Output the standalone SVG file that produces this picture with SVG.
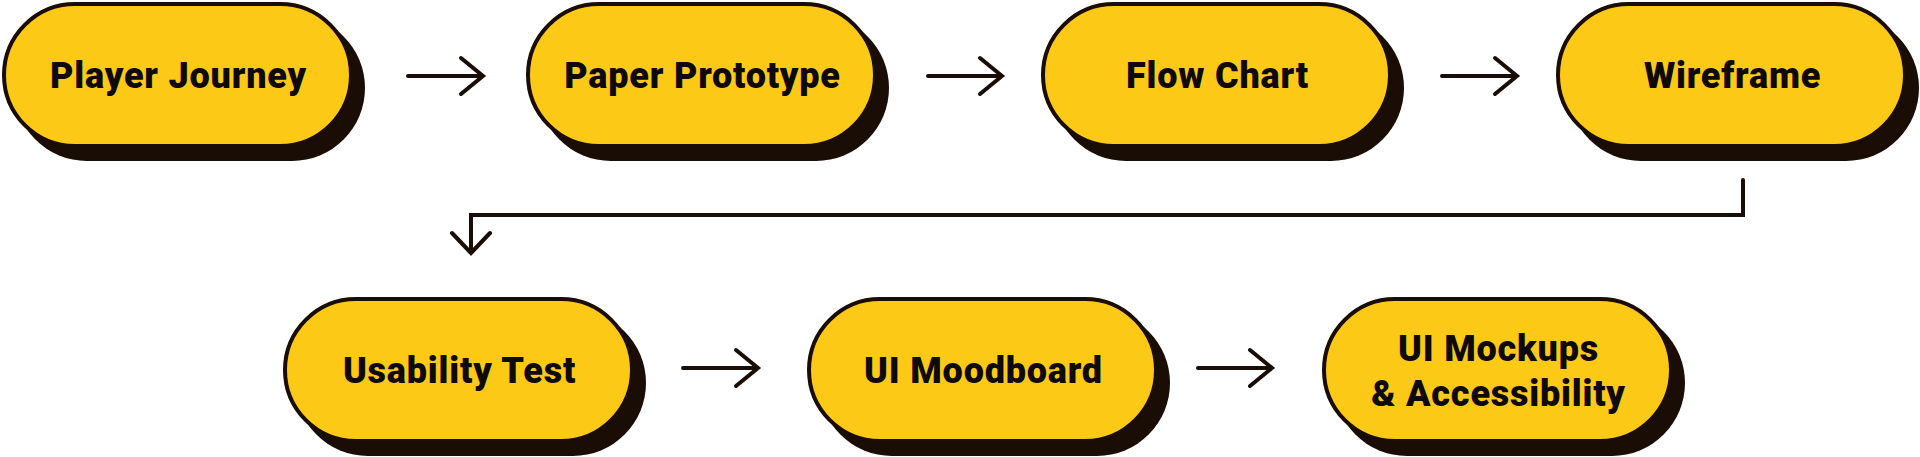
<svg xmlns="http://www.w3.org/2000/svg" width="1920" height="457" viewBox="0 0 1920 457">
  <style>
    .sh { fill: #1a0d05; }
    .pill { fill: #fdc917; stroke: #1a0d05; stroke-width: 4; }
    .lbl { font-family: Roboto, "Liberation Sans", sans-serif; font-weight: 900; font-size: 36px; letter-spacing: 0.8px; fill: #0d0a08; text-anchor: middle; }
    .conn { fill: none; stroke: #1a0d05; stroke-width: 4; stroke-linecap: round; stroke-linejoin: miter; }
  </style>
  <rect x="0" y="0" width="1920" height="457" fill="#ffffff"/>

  <g id="connectors">
    <path class="conn" d="M408,76 H483 M461,58 L483,76 L461,94"/>
    <path class="conn" d="M928,76 H1002 M980,58 L1002,76 L980,94"/>
    <path class="conn" d="M1442,76 H1517 M1495,58 L1517,76 L1495,94"/>
    <path class="conn" d="M1743,180 V215 H471 V253 M452,233 L471,253 L490,233"/>
    <path class="conn" d="M683,368 H758 M736,350 L758,368 L736,386"/>
    <path class="conn" d="M1198,368 H1272 M1250,350 L1272,368 L1250,386"/>
  </g>

  <g id="n1" transform="translate(2,2)">
    <rect class="sh" x="12" y="13" width="351" height="146" rx="73"/>
    <rect class="pill" x="2" y="2" width="347" height="142" rx="71"/>
    <text class="lbl" x="176.5" y="86">Player Journey</text>
  </g>
  <g id="n2" transform="translate(526,2)">
    <rect class="sh" x="12" y="13" width="351" height="146" rx="73"/>
    <rect class="pill" x="2" y="2" width="347" height="142" rx="71"/>
    <text class="lbl" x="176.5" y="86">Paper Prototype</text>
  </g>
  <g id="n3" transform="translate(1041,2)">
    <rect class="sh" x="12" y="13" width="351" height="146" rx="73"/>
    <rect class="pill" x="2" y="2" width="347" height="142" rx="71"/>
    <text class="lbl" x="176.5" y="86">Flow Chart</text>
  </g>
  <g id="n4" transform="translate(1556,2)">
    <rect class="sh" x="12" y="13" width="351" height="146" rx="73"/>
    <rect class="pill" x="2" y="2" width="347" height="142" rx="71"/>
    <text class="lbl" x="176.5" y="86">Wireframe</text>
  </g>
  <g id="n5" transform="translate(283,297)">
    <rect class="sh" x="12" y="13" width="351" height="146" rx="73"/>
    <rect class="pill" x="2" y="2" width="347" height="142" rx="71"/>
    <text class="lbl" x="176.5" y="86">Usability Test</text>
  </g>
  <g id="n6" transform="translate(807,297)">
    <rect class="sh" x="12" y="13" width="351" height="146" rx="73"/>
    <rect class="pill" x="2" y="2" width="347" height="142" rx="71"/>
    <text class="lbl" x="176.5" y="86">UI Moodboard</text>
  </g>
  <g id="n7" transform="translate(1322,297)">
    <rect class="sh" x="12" y="13" width="351" height="146" rx="73"/>
    <rect class="pill" x="2" y="2" width="347" height="142" rx="71"/>
    <text class="lbl" x="176.5" y="64">UI Mockups</text>
    <text class="lbl" x="176.5" y="109">&amp; Accessibility</text>
  </g>
</svg>
